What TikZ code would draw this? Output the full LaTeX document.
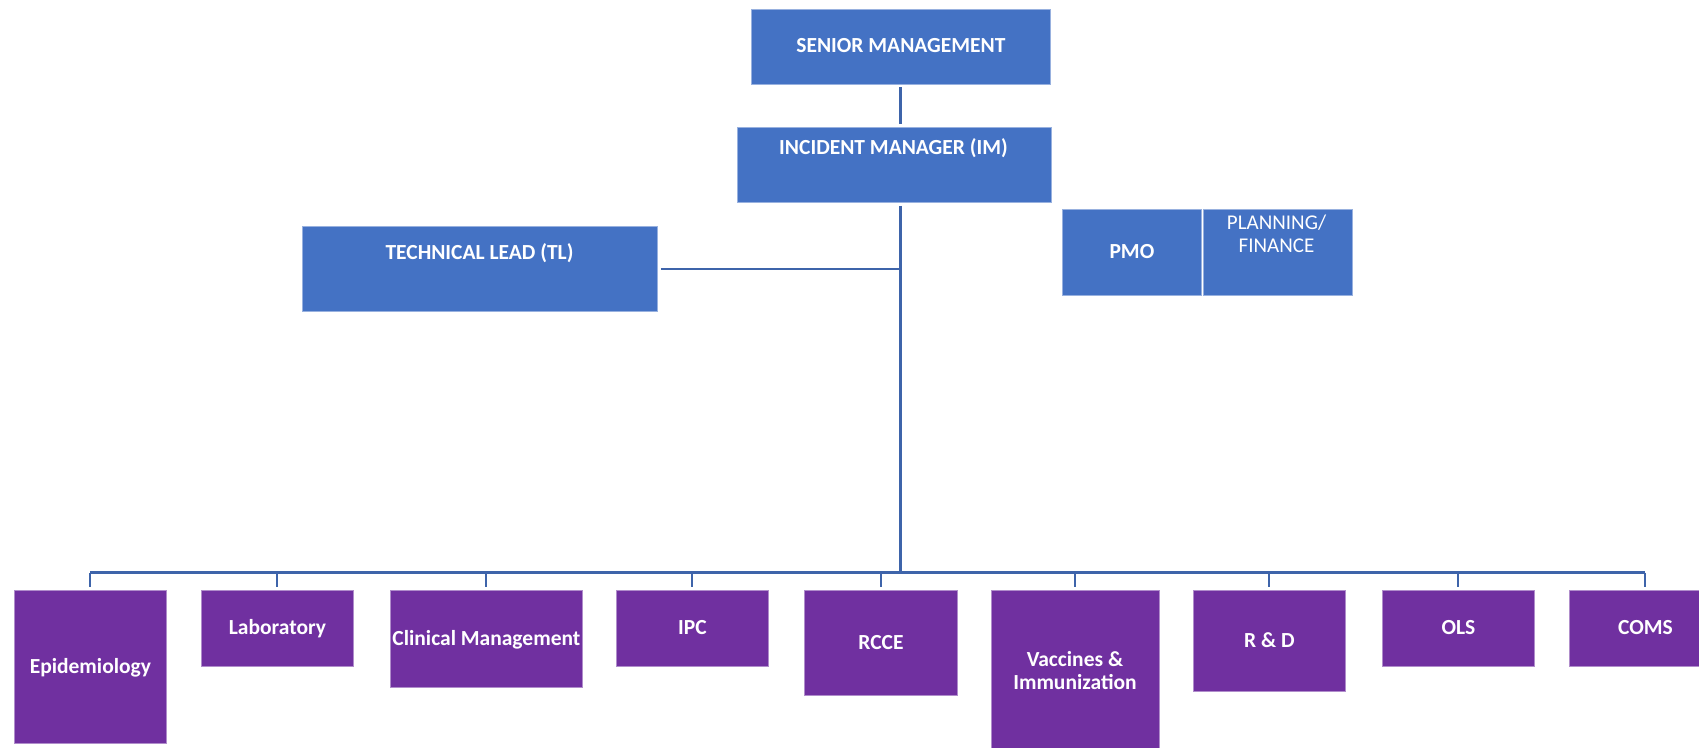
\documentclass[tikz,border=0pt]{standalone}
\usepackage{fontspec}
\setmainfont{Carlito}
\definecolor{boxblue}{HTML}{4472C4}
\definecolor{boxpurple}{HTML}{7030A0}
\definecolor{linkblue}{HTML}{3E64AA}
\tikzset{
  box/.style={fill=#1, draw=#1!55!white, line width=0.8pt, inner sep=0pt,
    anchor=north west, text=white, font=\bfseries\fontsize{21.5}{23}\selectfont,
    text height=13pt, text depth=0pt},
  bluebox/.style={box=boxblue},
  purplebox/.style={box=boxpurple},
  lbl/.style={text=white, inner sep=0pt, font=\bfseries\fontsize{21.5}{23}\selectfont,
    text height=13pt, text depth=0pt},
  link/.style={draw=linkblue, line width=3pt},
  droplink/.style={draw=linkblue, line width=2pt, shorten >=3pt},
}
\begin{document}
\begin{tikzpicture}[x=1pt,y=-1pt]
\clip (0,0) rectangle (1699,747);
\fill[white] (0,0) rectangle (1699,747);

% management boxes
\node[bluebox, minimum width=299, minimum height=75] (sm) at (751,8.5) {SENIOR MANAGEMENT};
\node[bluebox, minimum width=314, minimum height=75] (im) at (736.5,127) {};
\node[lbl] (imtext) at (893.5,148) {INCIDENT MANAGER (IM)};
\node[bluebox, minimum width=355, minimum height=85] (tl) at (302,226) {};
\node[lbl] (tltext) at (479.5,252.5) {TECHNICAL LEAD (TL)};
\node[bluebox, minimum width=139, minimum height=86] (pmo) at (1062,208.5) {PMO};
\node[bluebox, minimum width=149, minimum height=86] (plan) at (1203,208.5) {};
\node[text=white, inner sep=0pt, align=center, font=\fontsize{21}{22.5}\selectfont]
  (plantext) at (1276.5,234) {PLANNING/\\FINANCE};

% pillars
\node[purplebox, minimum width=152, minimum height=153] (epi)  at (14,590)   {Epidemiology};
\node[purplebox, minimum width=152, minimum height=76]  (lab)  at (201,590)  {Laboratory};
\node[purplebox, minimum width=192, minimum height=97]  (clin) at (390,590)  {Clinical Management};
\node[purplebox, minimum width=152, minimum height=76]  (ipc)  at (616,590)  {IPC};
\node[purplebox, minimum width=153, minimum height=105] (rcce) at (804,590)  {RCCE};
\node[purplebox, minimum width=168, minimum height=165] (vacc) at (991,590)  {};
\node[lbl, align=center, text height=, text depth=] (vacctext) at (1075,671) {Vaccines \&\\Immunization};
\node[purplebox, minimum width=152, minimum height=101] (rd)   at (1193,590) {R \& D};
\node[purplebox, minimum width=152, minimum height=76]  (ols)  at (1382,590) {OLS};
\node[purplebox, minimum width=152, minimum height=76]  (coms) at (1569,590) {COMS};

% connectors
\coordinate (bus) at (900.5,572.7);
\draw[link, shorten <=3pt, shorten >=3pt] (sm.south) -- (sm.south |- im.north);
\draw[link, shorten <=3pt] (bus |- im.south) -- (bus);
\draw[link, line width=2.5pt, shorten <=3pt] (tl.east) -- (tl.east -| bus);
\draw[link] (epi.north |- bus) -- (coms.north |- bus);
\foreach \n in {epi,lab,clin,ipc,rcce,vacc,rd,ols,coms}
  \draw[droplink] (\n.north |- bus) -- (\n.north);
\end{tikzpicture}
\end{document}
